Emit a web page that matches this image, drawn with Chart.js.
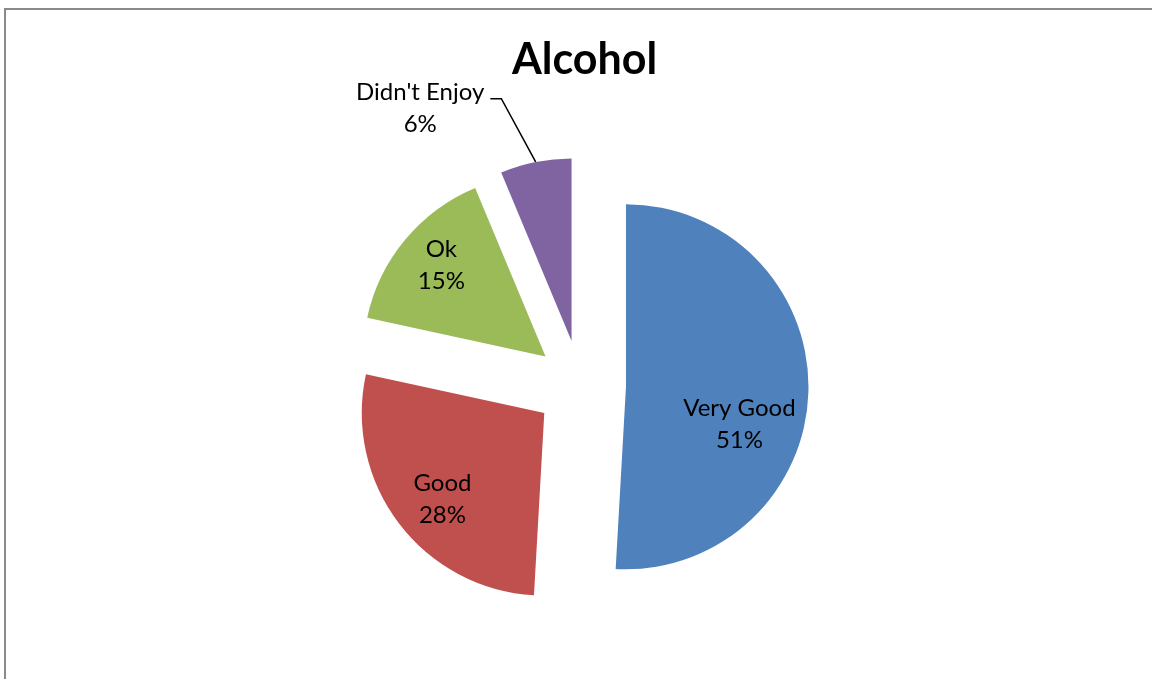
<!DOCTYPE html>
<html>
<head>
<meta charset="utf-8">
<script src="https://cdn.jsdelivr.net/npm/chart.js@4/dist/chart.umd.min.js"></script>
<style>
    html, body { margin: 0; padding: 0; background: #fff; overflow: hidden; }
    #frame {
        position: absolute; left: 4px; top: 8px;
        width: 1200px; height: 720px;
        border: 2px solid #8a8a8a; box-sizing: border-box;
    }
    #wrap { position: absolute; left: 0; top: 0; width: 1152px; height: 679px; }
</style>
</head>
<body>
<div id="frame"></div>
<div id="wrap"><canvas id="chart" width="1152" height="679"></canvas></div>
<script>
const chartTitle = "Alcohol";
const categories = ["Very Good", "Good", "Ok", "Didn't Enjoy"];
const shares = [50.9, 27.5, 15.3, 6.3];
const sliceColors = ["#4F81BD", "#C0504D", "#9BBB59", "#8064A2"];

// label placement, relative to each exploded slice: turn from mid-angle (deg), distance (x radius)
const labelTurn = [16.7, -3.0, 1.3, -21.75];
const labelDist = [0.655, 0.731, 0.757, 1.519];

const RADIUS = 182.5;
const EXPLODE = 45.5;      // px each slice is pulled out from the centre
const FONT = "Lato, 'Open Sans', sans-serif";
const LABEL_SIZE = 24;
const LINE = 32;

const total = shares.reduce((a, b) => a + b, 0);

function explodedCentre(arc) {
    const p = arc.getProps(["x", "y", "startAngle", "endAngle", "outerRadius"], true);
    const mid = (p.startAngle + p.endAngle) / 2;
    return {
        x: p.x + Math.cos(mid) * EXPLODE,
        y: p.y + Math.sin(mid) * EXPLODE,
        mid: mid,
        r: p.outerRadius
    };
}

// draw the slices pulled out by the same distance (Chart.js offset also grows the radius)
const explode = {
    id: "explode",
    beforeDatasetDraw(chart, args) {
        const ctx = chart.ctx;
        args.meta.data.forEach(arc => {
            const c = explodedCentre(arc);
            ctx.save();
            ctx.translate(c.x - arc.x, c.y - arc.y);
            arc.draw(ctx, chart.chartArea);
            ctx.restore();
        });
        return false;
    }
};

const sliceLabels = {
    id: "sliceLabels",
    afterDatasetsDraw(chart) {
        const ctx = chart.ctx;
        const meta = chart.getDatasetMeta(0);
        const area = chart.chartArea;
        ctx.save();

        // title
        ctx.fillStyle = "#000";
        ctx.textAlign = "center";
        ctx.textBaseline = "alphabetic";
        ctx.font = "bold 43px " + FONT;
        ctx.fillText(chartTitle, (area.left + area.right) / 2 + 4, 74);

        ctx.font = LABEL_SIZE + "px " + FONT;
        ctx.textBaseline = "middle";
        meta.data.forEach((arc, i) => {
            const c = explodedCentre(arc);
            const a = c.mid + labelTurn[i] * Math.PI / 180;
            const r = c.r * labelDist[i];
            const lx = c.x + Math.cos(a) * r;
            const ly = c.y + Math.sin(a) * r;
            const line1 = categories[i];
            const line2 = Math.round(shares[i] / total * 100) + "%";
            ctx.fillStyle = "#000";
            ctx.fillText(line1, lx, ly - LINE / 2);
            ctx.fillText(line2, lx, ly + LINE / 2);

            if (labelDist[i] > 1) {
                // leader line from label to the slice edge
                const w = ctx.measureText(line1).width;
                const sx = lx + w / 2 + 6;
                const sy = ly - LINE / 2 + 6;
                const ex = c.x + Math.cos(c.mid) * c.r;
                const ey = c.y + Math.sin(c.mid) * c.r;
                ctx.strokeStyle = "#000";
                ctx.lineWidth = 1.5;
                ctx.beginPath();
                ctx.moveTo(sx, sy);
                ctx.lineTo(sx + 11, sy);
                ctx.lineTo(ex, ey);
                ctx.stroke();
            }
        });
        ctx.restore();
    }
};

new Chart(document.getElementById("chart"), {
    type: "pie",
    data: {
        labels: categories,
        datasets: [{
            data: shares,
            backgroundColor: sliceColors,
            borderWidth: 0,
            hoverOffset: 0
        }]
    },
    options: {
        responsive: false,
        devicePixelRatio: 1,
        animation: false,
        radius: RADIUS,
        layout: { padding: { left: 9, right: 0, top: 92, bottom: 0 } },
        plugins: {
            legend: { display: false },
            tooltip: { enabled: false },
            title: { display: false }
        }
    },
    plugins: [explode, sliceLabels]
});
</script>
</body>
</html>
